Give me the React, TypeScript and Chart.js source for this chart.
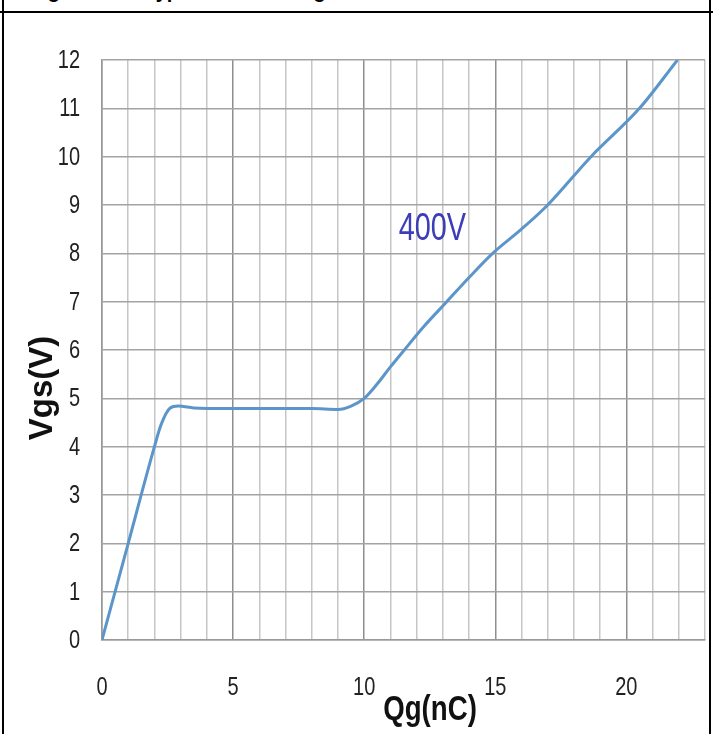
import React, { useEffect, useRef } from "react";
import { Chart, registerables } from "chart.js";

Chart.register(...registerables);

const qg = [0, 1, 2, 2.25, 2.6, 2.9, 3.5, 4, 5, 6, 7, 8, 9, 9.5, 10, 10.5, 11, 11.5, 12.3, 13.15, 14, 14.9, 16, 17, 18.65, 20.5, 21.95];
const vgs = [0, 2.0, 4.0, 4.45, 4.8, 4.84, 4.8, 4.79, 4.79, 4.79, 4.79, 4.79, 4.77, 4.84, 5.0, 5.3, 5.65, 5.98, 6.5, 7.0, 7.5, 8.0, 8.5, 9.0, 10.0, 11.0, 12.0];

const xMin = 0;
const xMax = 23;
const yMin = 0;
const yMax = 12;
const xLabelEvery = 5;

const titleLeft = "Figure 12.";
const titleRight = "Typical Gate Charge";
const xAxisTitle = "Qg(nC)";
const yAxisTitle = "Vgs(V)";
const curveLabel = "400V";
const curveLabelAt = { x: 12.6, y: 8.5 };

const SANS = '"Liberation Sans", Arial, sans-serif';

function scaledText(ctx: any, text: string, x: number, y: number, sx: number) {
  ctx.save();
  ctx.translate(x, y);
  ctx.scale(sx, 1);
  ctx.fillText(text, 0, 0);
  ctx.restore();
}

const textPlugin = {
  id: "customText",
  afterDraw(chart: any) {
    const { ctx, scales, chartArea } = chart;
    ctx.save();
    // tick labels
    ctx.fillStyle = "#222";
    ctx.font = `25px ${SANS}`;
    ctx.textBaseline = "middle";
    ctx.textAlign = "right";
    scales.y.ticks.forEach((t: any) => {
      scaledText(ctx, String(t.value), chartArea.left - 22, scales.y.getPixelForValue(t.value) + 1, 0.8);
    });
    ctx.textAlign = "center";
    scales.x.ticks.forEach((t: any) => {
      if (t.value % xLabelEvery !== 0) return;
      scaledText(ctx, String(t.value), scales.x.getPixelForValue(t.value), chartArea.bottom + 48, 0.8);
    });
    // curve label
    ctx.fillStyle = "#3d3db8";
    ctx.font = `39px ${SANS}`;
    ctx.textAlign = "center";
    ctx.textBaseline = "middle";
    scaledText(ctx, curveLabel, scales.x.getPixelForValue(curveLabelAt.x), scales.y.getPixelForValue(curveLabelAt.y), 0.74);
    // x axis title
    ctx.fillStyle = "#111";
    ctx.font = `bold 35px ${SANS}`;
    ctx.textAlign = "center";
    ctx.textBaseline = "alphabetic";
    scaledText(ctx, xAxisTitle, 430, 720, 0.79);
    // y axis title
    ctx.translate(52, 388);
    ctx.rotate(-Math.PI / 2);
    ctx.font = `bold 33px ${SANS}`;
    ctx.textAlign = "center";
    ctx.textBaseline = "alphabetic";
    ctx.fillText(yAxisTitle, 0, 0);
    ctx.restore();
  },
};

export default function App() {
  const ref = useRef<HTMLCanvasElement | null>(null);
  useEffect(() => {
    if (!ref.current) return;
    const chart = new Chart(ref.current, {
      type: "line",
      data: {
        datasets: [
          {
            data: qg.map((x, i) => ({ x, y: vgs[i] })),
            borderColor: "#5b95c9",
            borderWidth: 3,
            pointRadius: 0,
            fill: false,
            cubicInterpolationMode: "monotone",
          },
        ],
      },
      options: {
        animation: false,
        responsive: false,
        devicePixelRatio: 1,
        layout: { padding: { left: 0, right: 8, top: 60, bottom: 0 } },
        plugins: { legend: { display: false }, tooltip: { enabled: false }, title: { display: false } },
        scales: {
          x: {
            type: "linear",
            min: xMin,
            max: xMax,
            afterFit: (s: any) => {
              s.height = 94;
              s.paddingLeft = 0;
              s.paddingRight = 0;
            },
            ticks: { stepSize: 1, autoSkip: false, maxRotation: 0, display: false },
            grid: {
              drawTicks: false,
              lineWidth: 1.5,
              color: (c: any) => (c.tick && c.tick.value % xLabelEvery === 0 ? "#8e8e8e" : "#c6c6c6"),
            },
            border: { color: "#999", width: 1.5 },
          },
          y: {
            type: "linear",
            min: yMin,
            max: yMax,
            afterFit: (s: any) => {
              s.width = 102;
              s.paddingTop = 0;
              s.paddingBottom = 0;
            },
            ticks: { stepSize: 1, display: false },
            grid: { drawTicks: false, lineWidth: 1.5, color: "#a3a3a3" },
            border: { color: "#999", width: 1.5 },
          },
        },
      },
      plugins: [textPlugin],
    });
    return () => chart.destroy();
  }, []);

  const titleStyle: React.CSSProperties = {
    position: "absolute",
    top: -19,
    whiteSpace: "nowrap",
    font: `bold 20px/20px ${SANS}`,
    color: "#000",
  };

  return (
    <div style={{ position: "fixed", left: 0, top: 0, width: 713, height: 734, overflow: "hidden", background: "#fff" }}>
      <div style={{ ...titleStyle, left: 30 }}>{titleLeft}</div>
      <div style={{ ...titleStyle, left: 145 }}>{titleRight}</div>
      <div style={{ position: "absolute", left: 0, top: 11, width: 713, height: 2, background: "#000" }} />
      <div style={{ position: "absolute", left: 2, top: 0, width: 2, height: 734, background: "#000" }} />
      <div style={{ position: "absolute", left: 709, top: 0, width: 2, height: 734, background: "#000" }} />
      <canvas ref={ref} width={713} height={734} style={{ position: "absolute", left: 0, top: 0, width: 713, height: 734 }} />
    </div>
  );
}
